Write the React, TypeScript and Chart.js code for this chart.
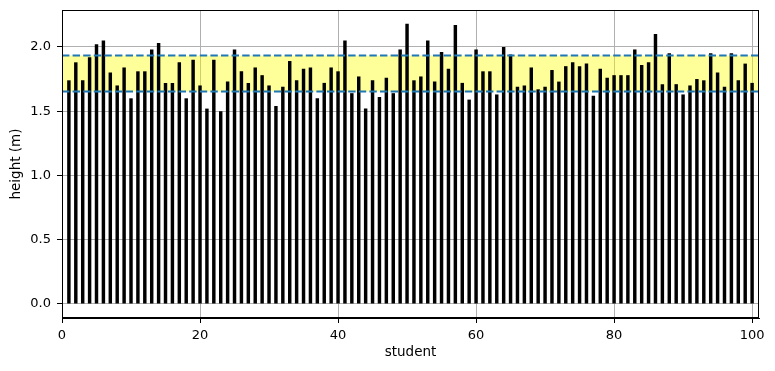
import React, { useEffect, useRef } from 'react';
import { Chart, registerables } from 'chart.js';
Chart.register(...registerables);

const STUDENTS = Array.from({ length: 100 }, (_, i) => i + 1);
const HEIGHTS = [
  1.74, 1.88, 1.74, 1.92, 2.02, 2.05, 1.80, 1.70, 1.84, 1.60,
  1.81, 1.81, 1.98, 2.03, 1.72, 1.72, 1.88, 1.60, 1.90, 1.70,
  1.52, 1.90, 1.50, 1.73, 1.98, 1.81, 1.72, 1.84, 1.78, 1.70,
  1.54, 1.69, 1.89, 1.74, 1.83, 1.84, 1.60, 1.72, 1.84, 1.81,
  2.05, 1.64, 1.77, 1.52, 1.74, 1.61, 1.76, 1.64, 1.98, 2.18,
  1.74, 1.77, 2.05, 1.73, 1.96, 1.83, 2.17, 1.72, 1.59, 1.98,
  1.81, 1.81, 1.63, 2.00, 1.94, 1.69, 1.70, 1.84, 1.67, 1.69,
  1.82, 1.73, 1.85, 1.88, 1.85, 1.87, 1.62, 1.83, 1.76, 1.78,
  1.78, 1.78, 1.98, 1.86, 1.88, 2.10, 1.71, 1.95, 1.71, 1.63,
  1.70, 1.75, 1.74, 1.95, 1.80, 1.69, 1.95, 1.74, 1.87, 1.72,
];
const BAND_LOW = 1.653;
const BAND_HIGH = 1.933;
const X_TICKS = [0, 20, 40, 60, 80, 100];
const Y_TICKS = [0, 0.5, 1.0, 1.5, 2.0];
const X_MIN = 0;
const X_MAX = 101;
const Y_MIN = -0.109;
const Y_MAX = 2.287;

const FONT = 'DejaVu Sans';

const bandPlugin = {
  id: 'bandPlugin',
  beforeDatasetsDraw(chart: any) {
    const { ctx, chartArea, scales } = chart;
    const y1 = scales.y.getPixelForValue(BAND_HIGH);
    const y2 = scales.y.getPixelForValue(BAND_LOW);
    ctx.save();
    ctx.fillStyle = 'rgba(255,255,0,0.4)';
    ctx.fillRect(chartArea.left, y1, chartArea.right - chartArea.left, y2 - y1);
    ctx.restore();
  },
  afterDatasetsDraw(chart: any) {
    const { ctx, chartArea, scales } = chart;
    ctx.save();
    ctx.strokeStyle = '#1f77b4';
    ctx.lineWidth = 2;
    ctx.setLineDash([7.4, 3.2]);
    for (const v of [BAND_LOW, BAND_HIGH]) {
      const y = scales.y.getPixelForValue(v);
      ctx.beginPath();
      ctx.moveTo(chartArea.left, y);
      ctx.lineTo(chartArea.right, y);
      ctx.stroke();
    }
    ctx.restore();
  },
  afterDraw(chart: any) {
    const { ctx, chartArea } = chart;
    ctx.save();
    ctx.strokeStyle = '#000';
    ctx.lineWidth = 1;
    ctx.strokeRect(chartArea.left + 0.5, chartArea.top + 0.5, chartArea.right - chartArea.left - 1, chartArea.bottom - chartArea.top - 1);
    ctx.restore();
  },
};

export default function App() {
  const ref = useRef<HTMLCanvasElement>(null);
  useEffect(() => {
    document.body.style.margin = '0';
    const chart = new Chart(ref.current!, {
      type: 'bar',
      data: {
        datasets: [
          {
            data: STUDENTS.map((s, i) => ({ x: s, y: HEIGHTS[i] })),
            backgroundColor: '#000000',
            borderWidth: 0,
            barPercentage: 0.5,
            categoryPercentage: 1,
          },
        ],
      },
      options: {
        responsive: false,
        animation: false,
        layout: { padding: { top: 10, right: 16, left: 0, bottom: 0 } },
        plugins: { legend: { display: false }, tooltip: { enabled: false } },
        scales: {
          x: {
            type: 'linear',
            min: X_MIN,
            max: X_MAX,
            offset: false,
            afterBuildTicks: (s: any) => { s.ticks = X_TICKS.map((v) => ({ value: v })); },
            afterFit: (s: any) => { s.height = 53; s.paddingLeft = 0; s.paddingRight = 0; },
            ticks: { color: '#000', font: { family: FONT, size: 13 }, padding: 5, maxRotation: 0, autoSkip: false },
            grid: { color: '#b0b0b0', lineWidth: 1, tickColor: '#000', tickLength: 5, drawTicks: true, offset: false },
            border: { color: '#000', width: 1 },
            title: { display: true, text: 'student', color: '#000', font: { family: FONT, size: 13.5 }, padding: { top: 2, bottom: 10 } },
          },
          y: {
            type: 'linear',
            min: Y_MIN,
            max: Y_MAX,
            afterBuildTicks: (s: any) => { s.ticks = Y_TICKS.map((v) => ({ value: v })); },
            afterFit: (s: any) => { s.width = 62; s.paddingTop = 0; s.paddingBottom = 0; },
            ticks: { color: '#000', font: { family: FONT, size: 13 }, padding: 6, callback: (v: any) => Number(v).toFixed(1) },
            grid: { color: '#b0b0b0', lineWidth: 1, tickColor: '#000', tickLength: 5, drawTicks: true, offset: false },
            border: { color: '#000', width: 1 },
            title: { display: true, text: 'height (m)', color: '#000', font: { family: FONT, size: 13.5 }, padding: { top: 8, bottom: 0 } },
          },
        },
      },
      plugins: [bandPlugin],
    });
    return () => chart.destroy();
  }, []);
  return (
    <div style={{ position: 'absolute', left: 0, top: 0, width: 775, height: 371 }}>
      <canvas ref={ref} width={775} height={371} />
    </div>
  );
}
